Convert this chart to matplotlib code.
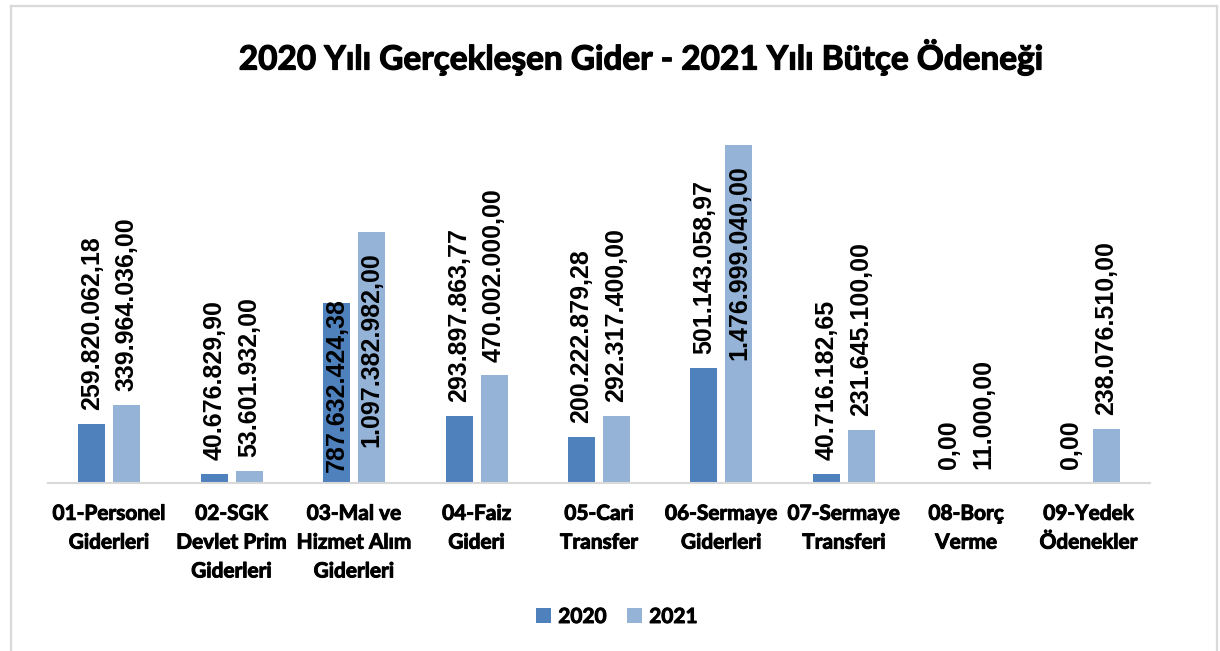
import numpy as np
import matplotlib
matplotlib.use("Agg")
import matplotlib.pyplot as plt
import matplotlib.patheffects as pe
from matplotlib.patches import Patch
from matplotlib.lines import Line2D

categories = ["01-Personel\nGiderleri", "02-SGK\nDevlet Prim\nGiderleri",
              "03-Mal ve\nHizmet Alım\nGiderleri", "04-Faiz\nGideri",
              "05-Cari\nTransfer", "06-Sermaye\nGiderleri",
              "07-Sermaye\nTransferi", "08-Borç\nVerme", "09-Yedek\nÖdenekler"]
values_2020 = [259820062.18, 40676829.90, 787632424.38, 293897863.77,
               200222879.28, 501143058.97, 40716182.65, 0.00, 0.00]
values_2021 = [339964036.00, 53601932.00, 1097382982.00, 470002000.00,
               292317400.00, 1476999040.00, 231645100.00, 11000.00, 238076510.00]
series_names = ["2020", "2021"]
title = "2020 Yılı Gerçekleşen Gider - 2021 Yılı Bütçe Ödeneği"

COL = ["#4F81BD", "#95B3D7"]
LABEL_FONT = ["Liberation Sans", "DejaVu Sans"]
CAT_FONT = ["Lato", "DejaVu Sans"]
CAT_W = "bold"
THICK = [pe.withStroke(linewidth=0.7, foreground="black")]

W, H = 1220, 651
fig = plt.figure(figsize=(W / 100, H / 100), dpi=100)
fig.patch.set_facecolor("white")

ax = fig.add_axes([48 / W, 168 / H, 1102 / W, 338 / H])
x = np.arange(len(categories))
bw, off = 0.22, 0.143
b1 = ax.bar(x - off, values_2020, bw, color=COL[0], zorder=2)
b2 = ax.bar(x + off, values_2021, bw, color=COL[1], zorder=2)
ax.set_xlim(-0.5, len(categories) - 0.5)
ax.set_ylim(0, max(max(values_2020), max(values_2021)))
for s in ["top", "right", "left"]:
    ax.spines[s].set_visible(False)
ax.spines["bottom"].set_color("#D9D9D9")
ax.spines["bottom"].set_linewidth(1.5)
ax.set_yticks([])
ax.set_xticks(x)
ax.set_xticklabels(categories, fontfamily=CAT_FONT, fontweight=CAT_W,
                   fontsize=15, linespacing=1.55, color="black")
for tl in ax.get_xticklabels():
    tl.set_path_effects(THICK)
ax.tick_params(axis="x", length=0, pad=15)


def fmt(v):
    s = f"{v:,.2f}"
    return s.replace(",", "X").replace(".", ",").replace("X", ".")


texts = []
for bars, vals in [(b1, values_2020), (b2, values_2021)]:
    for rect, v in zip(bars, vals):
        cx = rect.get_x() + rect.get_width() / 2
        t = ax.annotate(fmt(v), (cx, v), xytext=(0, 10), textcoords="offset points",
                        rotation=90, ha="center", va="bottom", fontsize=18,
                        fontweight="bold", fontfamily=LABEL_FONT, color="black",
                        annotation_clip=False, zorder=3)
        texts.append((t, cx, v))

fig.canvas.draw()
r = fig.canvas.get_renderer()
ax_top = ax.get_window_extent().y1
base_px = ax.transData.transform((0, 0))[1]
pt = 100 / 72
for t, cx, v in texts:
    bb = t.get_window_extent(r)
    if bb.y1 > ax_top + 1:
        t.set_va("top")
        t.xyann = (0, -20 / pt)
        fig.canvas.draw()
        bb = t.get_window_extent(r)
        if bb.y0 < base_px + 11:
            t.xy = (cx, 0)
            t.set_va("bottom")
            t.xyann = (0, 11 / pt)

fig.text(641 / W, 1 - 57 / H, title, ha="center", va="center",
         fontsize=24, fontweight=CAT_W, fontfamily=CAT_FONT, color="black",
         path_effects=[pe.withStroke(linewidth=0.9, foreground="black")])

handles = [Patch(facecolor=COL[0]), Patch(facecolor=COL[1])]
leg = fig.legend(handles, series_names, loc="center", bbox_to_anchor=(617 / W, 1 - 617 / H),
                 ncol=2, frameon=False, prop={"family": CAT_FONT, "weight": CAT_W, "size": 15},
                 handlelength=0.7, handleheight=0.7, handletextpad=0.35, columnspacing=1.0)
for lt in leg.get_texts():
    lt.set_path_effects(THICK)

# outer frame
gc = "#D9D9D9"
fig.add_artist(Line2D([11 / W, 11 / W], [0, 1 - 6 / H], color=gc, lw=1.6))
fig.add_artist(Line2D([11 / W, 1217 / W], [1 - 6 / H, 1 - 6 / H], color=gc, lw=1.6))
fig.add_artist(Line2D([1217 / W, 1217 / W], [0, 1 - 6 / H], color=gc, lw=1.6))

fig.savefig("out.png", dpi=100, facecolor="white")
